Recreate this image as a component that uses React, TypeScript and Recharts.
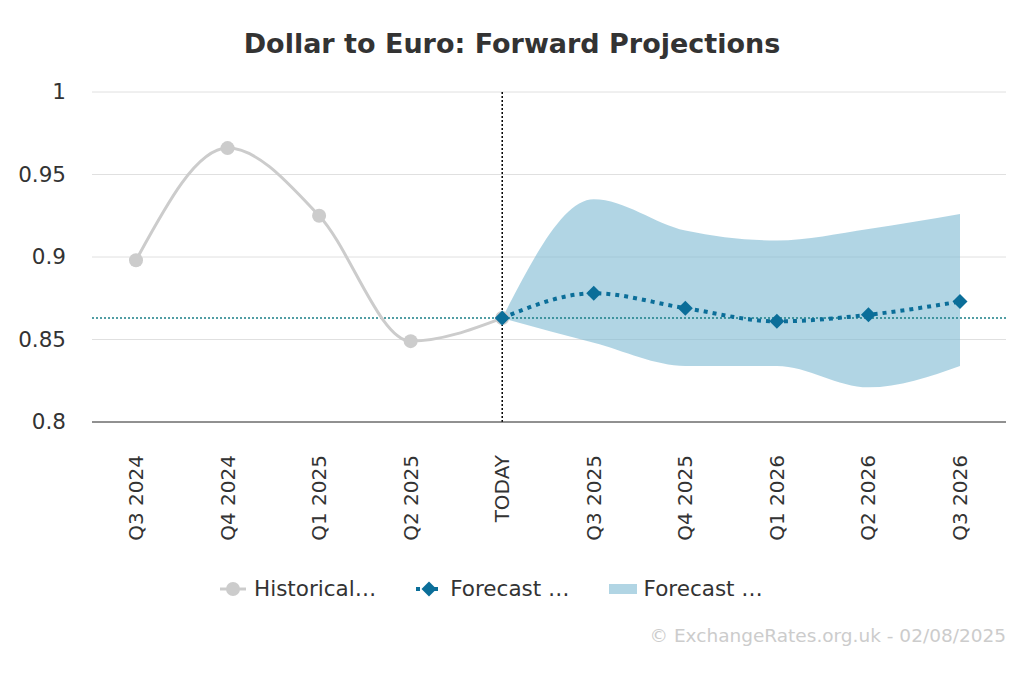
import React from "react";
import {
  ComposedChart,
  Line,
  Area,
  XAxis,
  YAxis,
  CartesianGrid,
  ReferenceLine,
} from "recharts";

const categories = [
  "Q3 2024",
  "Q4 2024",
  "Q1 2025",
  "Q2 2025",
  "TODAY",
  "Q3 2025",
  "Q4 2025",
  "Q1 2026",
  "Q2 2026",
  "Q3 2026",
];
const historical = [0.898, 0.966, 0.925, 0.849, 0.863, null, null, null, null, null];
const forecast = [null, null, null, null, 0.863, 0.878, 0.869, 0.861, 0.865, 0.873];
const forecastLow = [null, null, null, null, 0.863, 0.848, 0.834, 0.834, 0.821, 0.834];
const forecastHigh = [null, null, null, null, 0.863, 0.935, 0.916, 0.91, 0.917, 0.926];
const yTicks = [0.8, 0.85, 0.9, 0.95, 1];
const todayRate = 0.863;

const data = categories.map((c, i) => ({
  name: c,
  historical: historical[i],
  forecast: forecast[i],
  range: forecastLow[i] == null ? null : [forecastLow[i], forecastHigh[i]],
}));

const FONT = "'DejaVu Sans', Verdana, sans-serif";

const Diamond = (props: any) => {
  const { cx, cy } = props;
  if (cx == null || cy == null || props.value == null) return null;
  const s = 7.5;
  return (
    <path
      d={`M${cx},${cy - s}L${cx + s},${cy}L${cx},${cy + s}L${cx - s},${cy}Z`}
      fill="#0b6e99"
    />
  );
};

const XTick = (props: any) => {
  const { x, y, payload } = props;
  return (
    <text
      x={0}
      y={0}
      transform={`translate(${x + 7},${y + 25}) rotate(-90)`}
      textAnchor="end"
      fontSize={20}
      fill="#333"
      fontFamily={FONT}
    >
      {payload.value}
    </text>
  );
};

const YTick = (props: any) => {
  const { y, payload } = props;
  return (
    <text
      x={66}
      y={y + 7}
      textAnchor="end"
      fontSize={21.5}
      fill="#333"
      fontFamily={FONT}
    >
      {payload.value}
    </text>
  );
};

export default function App() {
  return (
    <div
      style={{
        position: "absolute",
        left: 0,
        top: 0,
        width: 1024,
        height: 683,
        background: "#fff",
        fontFamily: FONT,
      }}
    >
      <div
        style={{
          position: "absolute",
          top: 28,
          width: 1024,
          textAlign: "center",
          fontSize: 27,
          fontWeight: "bold",
          color: "#333",
        }}
      >
        Dollar to Euro: Forward Projections
      </div>
      <ComposedChart
        width={1024}
        height={683}
        data={data}
        margin={{ top: 92, right: 18, bottom: 131, left: 0 }}
      >
        <CartesianGrid vertical={false} stroke="#e0e0e0" />
        <XAxis
          dataKey="name"
          stroke="#333"
          tickLine={false}
          height={130}
          interval={0}
          padding={{ left: 44, right: 46 }}
          tick={<XTick />}
        />
        <YAxis
          domain={[0.8, 1]}
          ticks={yTicks}
          width={92}
          axisLine={false}
          tickLine={false}
          tick={<YTick />}
        />
        <Area
          dataKey="range"
          type="monotone"
          stroke="none"
          fill="#7db9d2"
          fillOpacity={0.6}
          isAnimationActive={false}
          connectNulls={false}
        />
        <ReferenceLine y={todayRate} stroke="#1a7f86" strokeDasharray="2 2" strokeWidth={1.5} />
        <ReferenceLine x="TODAY" stroke="#000" strokeDasharray="2 2" strokeWidth={1.5} />
        <Line
          dataKey="historical"
          type="monotone"
          stroke="#cccccc"
          strokeWidth={3}
          dot={{ r: 7, fill: "#cccccc", stroke: "none" }}
          isAnimationActive={false}
        />
        <Line
          dataKey="forecast"
          type="monotone"
          stroke="#0b6e99"
          strokeWidth={4}
          strokeDasharray="4 5"
          dot={<Diamond />}
          isAnimationActive={false}
        />
      </ComposedChart>
      <div
        style={{
          position: "absolute",
          top: 576,
          left: 218,
          display: "flex",
          fontSize: 21.5,
          color: "#333",
        }}
      >
        <div style={{ display: "flex", alignItems: "center", marginRight: 38 }}>
          <svg width={30} height={20}>
            <line x1={2} y1={10} x2={28} y2={10} stroke="#ccc" strokeWidth={3} />
            <circle cx={15} cy={10} r={7} fill="#ccc" />
          </svg>
          <span style={{ marginLeft: 6 }}>Historical…</span>
        </div>
        <div style={{ display: "flex", alignItems: "center", marginRight: 38 }}>
          <svg width={30} height={20}>
            <line x1={2} y1={10} x2={28} y2={10} stroke="#0b6e99" strokeWidth={4} strokeDasharray="4 5" />
            <path d="M15,2.5L22.5,10L15,17.5L7.5,10Z" fill="#0b6e99" />
          </svg>
          <span style={{ marginLeft: 6 }}>Forecast …</span>
        </div>
        <div style={{ display: "flex", alignItems: "center" }}>
          <svg width={30} height={20}>
            <rect x={1} y={5} width={28} height={10} fill="#7db9d2" fillOpacity={0.6} />
          </svg>
          <span style={{ marginLeft: 6 }}>Forecast …</span>
        </div>
      </div>
      <div
        style={{
          position: "absolute",
          top: 625,
          right: 18,
          fontSize: 18.5,
          color: "#cccccc",
        }}
      >
        © ExchangeRates.org.uk - 02/08/2025
      </div>
    </div>
  );
}
